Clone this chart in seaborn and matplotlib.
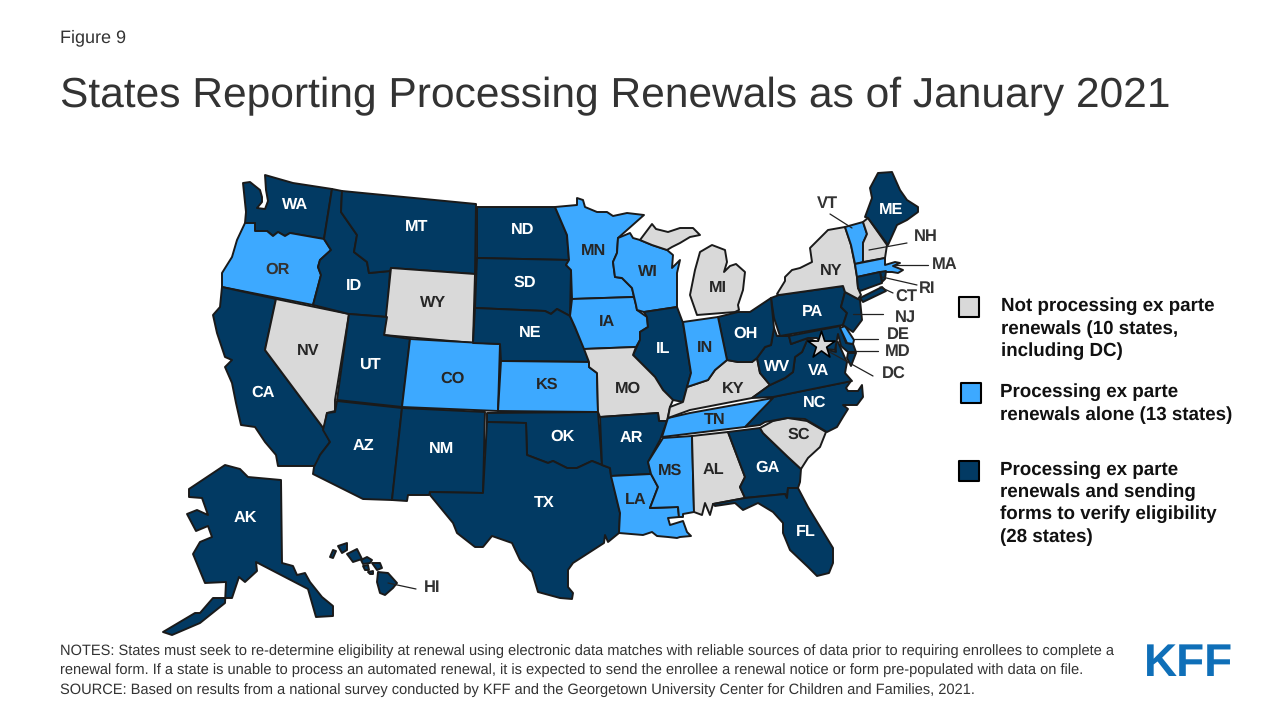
import matplotlib
matplotlib.use("Agg")
import matplotlib.pyplot as plt
import pandas as pd
import seaborn as sns

# state outlines, traced in picture space
WA = [(265,175),(293,183),(332,189),(324,239),(290,233),(285,236),(278,232),(273,236),(267,231),(255,231),(255,223),(245,223),(246,212),(243,183),(250,182),(260,190),(262,197),(262,202),(257,208),(265,209),(268,201),(266,190)]
OR = [(245,223),(255,223),(255,231),(267,231),(273,236),(278,232),(285,236),(290,233),(324,239),(331,250),(320,260),(318,267),(321,275),(313,305),(222,287),(222,273),(232,257),(237,240)]
CA = [(222,287),(276,299),(265,350),(324,429),(330,442),(320,455),(317,466),(278,466),(276,455),(265,442),(255,427),(241,425),(236,403),(232,383),(225,367),(232,360),(225,357),(217,333),(213,315),(220,307)]
NV = [(276,299),(349,314),(335,400),(335,411),(327,413),(324,429),(265,350)]
ID = [(332,189),(342,191),(341,212),(357,235),(354,252),(367,262),(369,273),(390,271),(387,317),(349,314),(313,305),(321,275),(318,267),(320,260),(331,250),(324,239)]
MT = [(342,191),(476,204),(475,274),(391,268),(390,271),(369,273),(367,262),(354,252),(357,235),(341,212)]
WY = [(391,268),(475,274),(473,343),(384,335)]
UT = [(349,314),(387,317),(384,335),(410,339),(402,407),(337,400)]
CO = [(410,339),(500,344),(498,411),(402,407)]
AZ = [(337,401),(402,408),(392,500),(363,499),(313,474),(314,467),(320,455),(330,442),(323,430),(327,413),(335,412)]
NM = [(402,408),(485,412),(483,493),(430,492),(429,495),(408,495),(407,501),(392,500)]
ND = [(477,207),(555,207),(567,235),(569,260),(477,258)]
SD = [(477,258),(569,260),(566,265),(571,270),(570,316),(557,309),(551,314),(545,311),(475,308)]
NE = [(475,308),(545,311),(551,314),(557,309),(570,316),(585,350),(589,362),(501,361),(500,344),(473,343)]
KS = [(501,361),(589,362),(589,367),(597,373),(598,412),(498,411)]
OK = [(487,413),(598,412),(602,465),(592,461),(577,468),(567,468),(553,461),(548,463),(527,455),(526,423),(487,422)]
TX = [(487,422),(526,423),(527,455),(548,463),(553,461),(567,468),(577,468),(592,461),(602,465),(610,468),(611,475),(620,513),(619,533),(608,542),(605,535),(604,543),(573,563),(568,570),(568,587),(573,593),(572,599),(560,598),(538,592),(532,572),(520,560),(512,543),(492,536),(483,547),(475,547),(457,533),(453,523),(430,495),(430,492),(483,493)]
MN = [(555,207),(577,205),(577,198),(583,200),(585,207),(597,212),(607,212),(613,216),(627,213),(644,215),(618,238),(617,253),(613,262),(615,277),(622,278),(632,288),(634,297),(572,299),(571,270),(566,265),(569,260),(567,235)]
IA = [(572,299),(634,297),(636,305),(637,310),(647,317),(648,327),(640,332),(640,340),(636,347),(584,349),(575,327),(570,316)]
WI = [(618,238),(630,233),(633,238),(640,240),(652,245),(667,250),(673,255),(672,268),(680,260),(677,273),(677,298),(677,307),(644,312),(637,310),(636,305),(632,288),(622,278),(615,277),(613,262),(617,253)]
IL = [(644,312),(677,307),(683,323),(691,373),(687,387),(683,402),(673,400),(663,390),(655,377),(633,355),(640,340),(640,332),(648,327),(647,317)]
MO = [(584,349),(636,347),(633,355),(655,377),(663,390),(673,400),(670,407),(667,421),(659,421),(658,413),(600,417),(598,412),(597,373),(589,367),(589,362)]
AR = [(600,417),(658,413),(659,421),(667,421),(660,440),(648,462),(651,474),(611,476),(610,468),(602,465)]
LA = [(611,476),(651,474),(658,487),(650,508),(678,507),(679,517),(668,518),(670,525),(683,521),(687,532),(691,536),(680,537),(677,538),(668,537),(657,536),(652,532),(643,535),(619,533),(620,513)]
MS = [(663,438),(692,436),(694,512),(683,514),(683,517),(679,517),(678,507),(650,508),(658,487),(651,474),(648,462)]
AL = [(692,436),(728,432),(745,477),(740,487),(745,498),(713,504),(710,515),(705,503),(702,515),(694,512)]
GA = [(728,432),(760,428),(763,433),(788,457),(801,469),(800,482),(798,488),(788,488),(787,498),(785,494),(745,498),(740,487),(745,477)]
FL = [(713,504),(745,498),(785,494),(787,498),(788,488),(798,488),(808,507),(822,530),(833,548),(833,563),(829,573),(817,576),(808,567),(790,550),(783,533),(783,523),(773,512),(758,503),(743,510),(735,503),(715,506)]
SC = [(760,428),(773,421),(788,418),(807,421),(826,432),(820,447),(808,458),(801,469),(788,457),(763,433)]
NC = [(745,427),(773,397),(851,381),(846,388),(848,391),(858,391),(862,385),(863,397),(857,405),(843,405),(848,409),(843,417),(837,427),(827,432),(805,419),(787,418),(765,422),(760,425)]
TN = [(668,418),(690,413),(773,398),(745,427),(662,437),(667,421)]
KY = [(727,360),(738,362),(752,362),(757,358),(760,373),(770,385),(752,398),(690,410),(668,418),(670,407),(683,402),(687,387),(708,380),(715,370)]
VA = [(752,398),(770,385),(785,378),(793,372),(795,357),(802,352),(808,338),(817,342),(828,350),(836,352),(835,342),(838,342),(845,358),(847,362),(845,373),(852,381),(773,397)]
VA_SHORE = [(848,353),(856,353),(851,366),(847,358)]
WV = [(757,358),(765,347),(771,345),(774,328),(777,336),(789,336),(791,344),(802,340),(808,338),(802,352),(795,357),(793,372),(785,378),(770,385),(760,373)]
MD = [(789,336),(840,326),(846,343),(853,344),(856,352),(848,352),(841,346),(838,334),(835,350),(826,349),(817,338),(808,338),(791,344)]
DE = [(840,328),(845,326),(854,340),(853,344),(847,343)]
PA = [(771,298),(779,295),(843,286),(845,292),(841,307),(847,313),(843,325),(780,336),(774,318)]
NJ = [(845,292),(860,300),(862,320),(853,332),(843,325),(847,313),(841,307)]
NY = [(792,270),(800,268),(812,262),(810,248),(828,230),(845,227),(851,245),(855,265),(857,277),(858,288),(861,295),(858,299),(845,292),(843,286),(779,295),(777,294),(785,281),(785,277)]
VT = [(845,227),(863,222),(867,234),(863,243),(863,262),(855,264),(851,245)]
NH = [(863,222),(868,218),(887,245),(885,258),(863,262),(863,243),(867,234)]
ME = [(865,217),(872,198),(870,188),(878,173),(892,172),(900,190),(907,200),(918,207),(918,212),(907,220),(897,225),(888,245),(868,218)]
MA = [(855,264),(885,258),(885,265),(895,262),(900,263),(893,266),(903,270),(898,273),(892,272),(880,272),(857,277)]
RI = [(880,272),(886,271),(885,279),(882,282)]
CT = [(857,277),(880,272),(882,283),(860,291),(858,288)]
LONG_ISLAND = [(860,298),(882,287),(886,291),(863,302)]
MI_UPPER = [(640,240),(652,224),(656,229),(668,232),(680,228),(693,228),(700,235),(690,237),(680,243),(672,247),(667,250),(652,245)]
MI_LOWER = [(697,315),(690,295),(695,270),(700,252),(712,245),(725,250),(727,262),(724,272),(730,266),(736,264),(745,272),(743,290),(738,305),(739,310),(735,312)]
OH = [(718,317),(738,312),(750,312),(771,298),(774,328),(771,345),(765,347),(757,358),(752,362),(738,362),(727,360)]
IN = [(683,322),(718,317),(727,360),(715,370),(708,380),(687,387),(691,373)]
AK = [(225,465),(240,469),(248,477),(281,480),(282,563),(293,566),(297,575),(305,573),(310,582),(322,597),(333,606),(333,616),(316,617),(308,589),(256,562),(257,571),(245,582),(239,577),(232,598),(213,598),(200,613),(195,613),(163,632),(172,635),(200,623),(225,603),(226,582),(205,583),(193,554),(200,542),(212,537),(208,526),(196,531),(187,514),(197,510),(208,515),(202,498),(189,497),(189,489)]
HI_BIG = [(378,572),(388,573),(397,583),(393,588),(385,595),(380,593),(377,582)]
HI_MAUI = [(372,563),(380,563),(382,568),(377,570)]
HI_MOLOKAI = [(361,560),(367,557),(372,560),(370,563),(363,564)]
HI_LANAI = [(363,566),(368,565),(369,570),(365,570)]
HI_KAHO = [(368,572),(373,571),(373,574),(370,574)]
HI_OAHU = [(347,554),(357,549),(362,559),(353,562)]
HI_KAUAI = [(338,546),(347,543),(347,550),(342,553)]
HI_NIIHAU = [(333,550),(336,551),(333,558),(330,557)]

# groups
not_processing = ["NV", "WY", "MO", "KY", "AL", "SC", "MI", "NY", "NH", "DC"]
alone = ["OR", "CO", "KS", "MN", "IA", "WI", "IN", "TN", "MS", "LA", "VT", "MA", "DE"]
with_forms = ["WA", "CA", "ID", "MT", "UT", "AZ", "NM", "ND", "SD", "NE", "OK", "TX", "IL", "AR", "GA", "FL", "NC", "VA", "WV", "MD", "PA", "NJ", "OH", "ME", "CT", "RI", "AK", "HI"]

shapes = {
    "WA": [WA], "OR": [OR], "CA": [CA], "NV": [NV], "ID": [ID], "MT": [MT], "WY": [WY], "UT": [UT],
    "CO": [CO], "AZ": [AZ], "NM": [NM], "ND": [ND], "SD": [SD], "NE": [NE], "KS": [KS], "OK": [OK],
    "TX": [TX], "MN": [MN], "IA": [IA], "WI": [WI], "IL": [IL], "MO": [MO], "AR": [AR], "LA": [LA],
    "MS": [MS], "AL": [AL], "GA": [GA], "FL": [FL], "SC": [SC], "NC": [NC], "TN": [TN], "KY": [KY],
    "VA": [VA, VA_SHORE], "WV": [WV], "MD": [MD], "DE": [DE], "PA": [PA], "NJ": [NJ], "NY": [NY],
    "VT": [VT], "NH": [NH], "ME": [ME], "MA": [MA], "RI": [RI], "CT": [CT, LONG_ISLAND],
    "MI": [MI_UPPER, MI_LOWER], "OH": [OH], "IN": [IN], "AK": [AK],
    "HI": [HI_BIG, HI_MAUI, HI_MOLOKAI, HI_LANAI, HI_KAHO, HI_OAHU, HI_KAUAI, HI_NIIHAU],
}

inner_labels = ["WA","OR","CA","NV","ID","MT","WY","UT","CO","AZ","NM","ND","SD","NE","KS","OK","TX","MN","WI","IA","IL","MO","AR","LA","MS","AL","TN","KY","IN","OH","MI","WV","VA","NC","SC","GA","FL","PA","NY","ME","AK"]
inner_x = [295,278,263,308,354,417,433,370,453,363,442,523,525,530,547,563,544,594,648,607,663,628,631,636,670,713,715,733,705,746,718,777,819,815,799,768,806,813,831,891,245]
inner_y = [205,270,393,351,286,227,303,365,379,446,449,230,283,333,385,437,503,251,272,322,349,389,438,500,471,470,420,389,348,334,288,367,371,403,435,468,532,312,271,210,518]

outer_labels = ["VT","NH","MA","RI","CT","NJ","DE","MD","DC","HI"]
outer_x = [827,926,945,927,906,905,898,898,894,432]
outer_y = [204,237,265,289,297,317,335,352,374,588]
leader_x = [(830,852),(907,869),(928,895),(917,882),(893,880),(883,853),(878,854),(878,856),(873,826),(416,388)]
leader_y = [(214,228),(243,250),(265,265),(285,277),(293,287),(314,314),(339,339),(351,351),(376,350),(589,583)]

legend_groups = ["Not processing", "Alone", "With forms"]
legend_x = [969, 971, 969]
legend_y = [307, 393, 471]
legend_lines = [
    ["Not processing ex parte", "renewals (10 states,", "including DC)"],
    ["Processing ex parte", "renewals alone (13 states)"],
    ["Processing ex parte", "renewals and sending", "forms to verify eligibility", "(28 states)"],
]
legend_line_x = [1001, 1000, 1000]
legend_line_y = [[306, 329, 351], [392, 415], [470, 492, 514, 537]]

notes = [
    "NOTES: States must seek to re-determine eligibility at renewal using electronic data matches with reliable sources of data prior to requiring enrollees to complete a",
    "renewal form. If a state is unable to process an automated renewal, it is expected to send the enrollee a renewal notice or form pre-populated with data on file.",
    "SOURCE: Based on results from a national survey conducted by KFF and the Georgetown University Center for Children and Families, 2021.",
]
notes_y = [651, 670, 690]

GRAY = "#d9d9d9"
LIGHT = "#3da9ff"
DARK = "#023a63"
EDGE = "#1a1a1a"
TEXT = "#333333"

sns.set_theme(style="white")
plt.rcParams["font.family"] = ["Liberation Sans", "DejaVu Sans"]
plt.rcParams["text.hinting"] = "no_hinting"

fig = plt.figure(figsize=(12.8, 7.2), dpi=100)
ax = fig.add_axes([0, 0, 1, 1])
ax.set_xlim(0, 1280)
ax.set_ylim(720, 0)
ax.axis("off")

def state_colour(code):
    if code in not_processing:
        return GRAY
    if code in alone:
        return LIGHT
    return DARK

for code, polys in shapes.items():
    for poly in polys:
        xs, ys = zip(*poly)
        ax.fill(xs, ys, facecolor=state_colour(code), edgecolor=EDGE, linewidth=1.4, joinstyle="round", zorder=2)

# dc marker
sns.scatterplot(x=[821], y=[345], marker="*", s=420, color=GRAY, edgecolor="black", linewidth=1.2, ax=ax, legend=False, zorder=4)

for code, x, y in zip(inner_labels, inner_x, inner_y):
    col = "white" if code in with_forms else "#262626"
    if code == "OR":
        col = TEXT
    ax.text(x, y, code, ha="center", va="center", fontsize=11.7, fontweight="bold", color=col, zorder=5)

for code, x, y in zip(outer_labels, outer_x, outer_y):
    ax.text(x, y, code, ha="center", va="center", fontsize=11.9, fontweight="bold", color=TEXT, zorder=5)

for xs, ys in zip(leader_x, leader_y):
    ax.plot(xs, ys, color="#222222", linewidth=0.9, zorder=3)

# legend
swatches = pd.DataFrame({"x": legend_x, "y": legend_y, "group": legend_groups})
sns.scatterplot(data=swatches, x="x", y="y", hue="group", palette=[GRAY, LIGHT, DARK], marker="s", s=200,
                edgecolor="black", linewidth=1.5, ax=ax, legend=False)
ax.set_xlabel("")
ax.set_ylabel("")
for lines, x, ys in zip(legend_lines, legend_line_x, legend_line_y):
    for line, y in zip(lines, ys):
        ax.text(x, y, line, ha="left", va="center", fontsize=13.5, fontweight="bold", color="#111111")

ax.text(60, 38, "Figure 9", ha="left", va="center", fontsize=13, color=TEXT)
ax.text(60, 96, "States Reporting Processing Renewals as of January 2021", ha="left", va="center", fontsize=30.6, color=TEXT)

for line, y in zip(notes, notes_y):
    ax.text(60, y, line, ha="left", va="center", fontsize=10.55, color=TEXT)

ax.text(1189, 676, "KFF", ha="center", va="baseline", fontsize=33, fontweight="bold", color="#0f6fb8")

fig.savefig("out.png", dpi=100)
